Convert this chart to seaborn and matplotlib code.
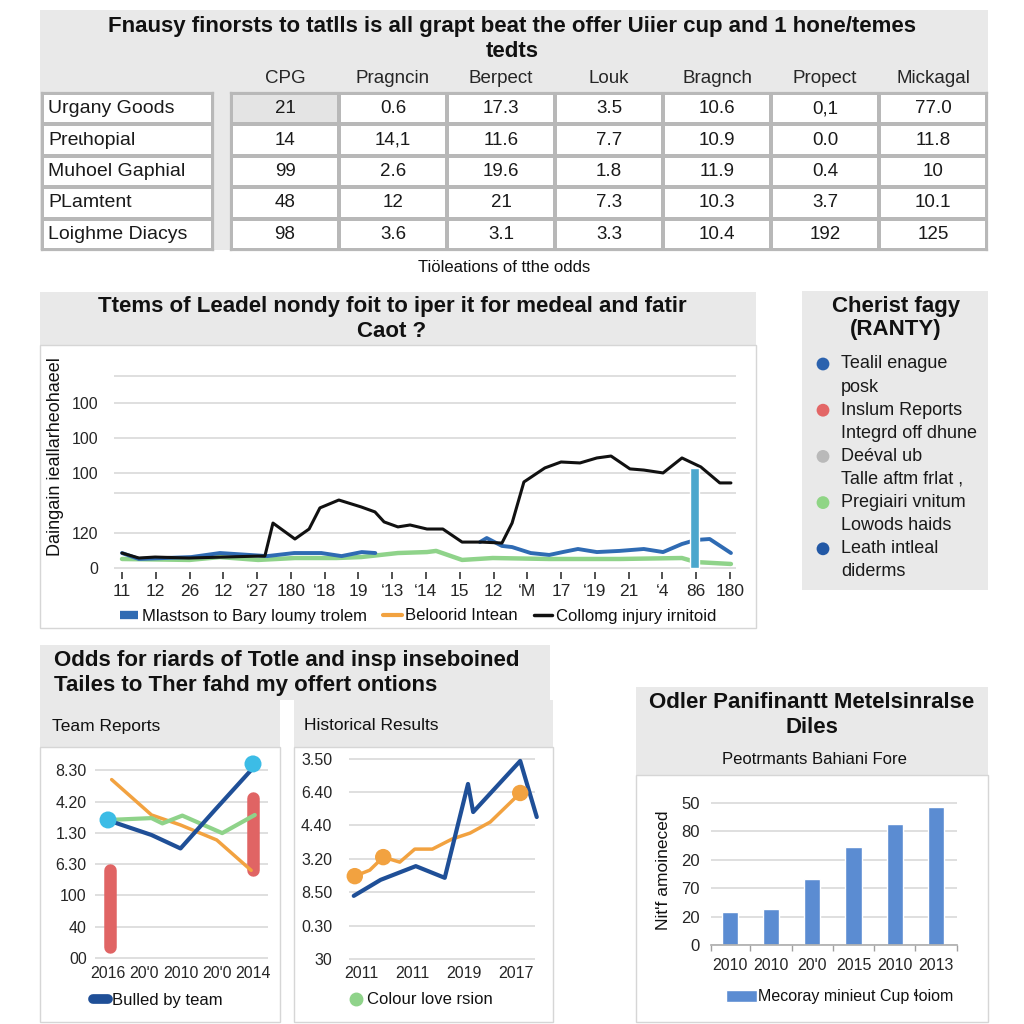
import numpy as np
import pandas as pd
import matplotlib
matplotlib.use("Agg")
import matplotlib.pyplot as plt
import seaborn as sns
from matplotlib.patches import Rectangle, Patch
from matplotlib.lines import Line2D
from matplotlib.colors import ListedColormap

# ---------------- DATA ----------------
# Top table
table_title = "Fnausy finorsts to tatlls is all grapt beat the offer Uiier cup and 1 hone/temes\ntedts"
table_cols = ["CPG", "Pragncin", "Berpect", "Louk", "Bragnch", "Propect", "Mickagal"]
table_rows = ["Urgany Goods", "Preɩhopial", "Muhoel Gaphial", "PLamtent", "Loighme Diacys"]
table_vals = [
    ["21", "0.6", "17.3", "3.5", "10.6", "0,1", "77.0"],
    ["14", "14,1", "11.6", "7.7", "10.9", "0.0", "11.8"],
    ["99", "2.6", "19.6", "1.8", "11.9", "0.4", "10"],
    ["48", "12", "21", "7.3", "10.3", "3.7", "10.1"],
    ["98", "3.6", "3.1", "3.3", "10.4", "192", "125"],
]
table_caption = "Tiöleations of tthe odds"

# Middle line chart
mid_title = "Ttems of Leadel nondy foit to iper it for medeal and fatir\nCaot ?"
mid_ylabel = "Daingain ieallarheohaeel"
mid_xlabels = ["11", "12", "26", "12", "‘27", "180", "‘18", "19", "‘13", "‘14",
               "15", "12", "‘M", "17", "‘19", "21", "‘4", "86", "180"]
mid_ytick_pos = [0, 18.2, 39, 49.5, 67.7, 85.9, 100]
mid_ytick_lab = ["0", "120", "", "100", "100", "100", ""]
black_x = [0, 0.5, 0.98, 1.98, 4.03, 4.23, 4.47, 5.12, 5.54, 5.86, 6.42, 7.08, 7.49,
           7.76, 8.17, 8.53, 9.03, 9.5, 10.07, 10.63, 11.25, 11.55, 11.9, 12.52, 13.0,
           13.56, 14.06, 14.48, 15.04, 15.45, 16.02, 16.58, 17.14, 17.7, 18.03]
black_y = [7.8, 5.2, 5.7, 5.2, 6.2, 6.2, 23.4, 15.1, 20.3, 31.3, 35.4, 31.8, 29.2,
           24.0, 21.4, 22.4, 20.3, 20.3, 13.5, 13.5, 13.0, 23.4, 44.8, 52.1, 55.2,
           54.7, 57.3, 58.3, 51.6, 51.0, 49.5, 57.3, 52.6, 44.3, 44.3]
blue1_x = [0, 0.5, 2.05, 2.9, 4.3, 5.1, 5.9, 6.5, 7.1, 7.5]
blue1_y = [7.8, 4.7, 5.7, 7.8, 6.2, 7.8, 7.8, 6.2, 8.3, 7.8]
blue2_x = [10.6, 10.8, 11.25, 11.55, 12.1, 12.65, 13.05, 13.5, 14.06, 14.73, 15.45,
           16.02, 16.58, 16.99, 17.4, 18.03]
blue2_y = [13.5, 15.6, 11.5, 10.9, 7.8, 6.8, 8.3, 9.9, 8.3, 8.9, 9.9, 8.3, 12.5,
           14.6, 15.1, 7.8]
green_x = [0, 2, 2.9, 4.03, 5.12, 6.35, 7.08, 8.17, 9.03, 9.3, 10.07, 10.98, 12.65,
           14.73, 16.58, 16.99, 18.03]
green_y = [4.7, 4.2, 5.7, 4.2, 5.2, 5.2, 5.7, 7.8, 8.3, 8.9, 4.2, 5.2, 4.7, 4.7, 5.2,
           3.1, 2.1]
teal_x = [16.95]
teal_h = [52]
mid_legend = ["Mlastson to Bary loumy trolem", "Beloorid Intean", "Collomg injury irnitoid"]

# Right legend panel
side_title = "Cherist fagy\n(RANTY)"
side_lines = ["Tealil enague", "posk", "Inslum Reports", "Integrd off dhune", "Deéval ub",
              "Talle aftm frlat ,", "Pregiairi vnitum", "Lowods haids", "Leath intleal",
              "diderms"]
side_dot_line = [0, 2, 4, 6, 8]
side_dot_colors = ["#2B62AE", "#E36666", "#B9B9B9", "#8FD585", "#2258A5"]

# Bottom-left: team reports
bl_title = "Odds for riards of Totle and insp inseboined\nTailes to Ther fahd my offert ontions"
tr_title = "Team Reports"
tr_xlabels = ["2016", "20'0", "2010", "20'0", "2014"]
tr_ylabels = ["00", "40", "100", "6.30", "1.30", "4.20", "8.30"]
tr_blue_x = [0, 1.2, 2.0, 2.95, 4.0]
tr_blue_y = [4.4, 3.93, 3.5, 4.73, 6.07]
tr_orange_x = [0.1, 1.2, 2.0, 3.0, 3.95]
tr_orange_y = [5.7, 4.57, 4.25, 3.77, 2.8]
tr_green_x = [0, 1.2, 1.5, 2.05, 3.15, 4.05]
tr_green_y = [4.41, 4.47, 4.3, 4.55, 3.99, 4.57]
tr_dot_x = [0, 4.0]
tr_dot_y = [4.41, 6.2]
tr_red_x = [0.05, 4.0]
tr_red_lo = [0.35, 2.8]
tr_red_hi = [2.8, 5.1]
tr_legend = "Bulled by team"

# Bottom-middle: historical results
hr_title = "Historical Results"
hr_xlabels = ["2011", "2011", "2019", "2017"]
hr_ylabels = ["30", "0.30", "8.50", "3.20", "4.40", "6.40", "3.50"]
hr_blue_x = [-0.14, 0.38, 1.06, 1.62, 2.07, 2.17, 3.08, 3.4]
hr_blue_y = [1.89, 2.37, 2.78, 2.43, 5.24, 4.4, 5.93, 4.25]
hr_orange_x = [-0.12, 0.17, 0.43, 0.75, 1.04, 1.38, 1.76, 2.11, 2.5, 3.08]
hr_orange_y = [2.48, 2.66, 3.05, 2.9, 3.29, 3.29, 3.59, 3.77, 4.1, 4.97]
hr_orange_dots = [0, 2, 9]
hr_legend = "Colour love rsion"

# Bottom-right: bars
br_title = "Odler Panifinantt Metelsinralse\nDiles"
br_subtitle = "Peotrmants Bahiani Fore"
br_ylabel = "Nit'f amoineced"
bar_xlabels = ["2010", "2010", "20'0", "2015", "2010", "2013"]
bar_vals = [1.17, 1.27, 2.32, 3.46, 4.26, 4.86]
bar_yticklabels = ["0", "20", "70", "20", "80", "50"]
bar_legend = "Mecoray minieut Cup ɬoiom"

# ---------------- STYLE ----------------
sns.set_theme(style="white")
plt.rcParams["font.family"] = ["Liberation Sans", "DejaVu Sans"]
plt.rcParams["text.color"] = "#111111"

GRAY = "#e9e9e9"
BORDER = "#d6d6d6"
GRID = "#d9d9d9"
BLUE = "#2F6BB3"
DBLUE = "#1F4F97"
GREEN = "#8FD38A"
ORANGE = "#F2A240"
BLACK = "#111111"
TEAL = "#4BA7CD"
RED = "#E06464"
CYAN = "#3CBCE6"
BARBLUE = "#5B8CD2"
TITLE_FS = 16
TITLE_LS = 1.2

W = H = 1024
fig = plt.figure(figsize=(10.24, 10.24), dpi=100, facecolor="white")


def axes_px(x0, y0, x1, y1):
    return fig.add_axes([x0 / W, 1 - y1 / H, (x1 - x0) / W, (y1 - y0) / H])


def box(x0, y0, x1, y1, fc, ec="none", lw=1.0):
    fig.add_artist(Rectangle((x0 / W, 1 - y1 / H), (x1 - x0) / W, (y1 - y0) / H,
                             transform=fig.transFigure, facecolor=fc, edgecolor=ec,
                             linewidth=lw, zorder=-5))


def ftext(x, y, s, **kw):
    fig.text(x / W, 1 - y / H, s, **kw)


# ---------------- PANEL BACKGROUNDS ----------------
box(40, 10, 988, 250, GRAY)
box(40, 292, 756, 345, GRAY)
box(40, 345, 756, 628, "white", BORDER)
box(802, 291, 988, 590, GRAY)
box(40, 645, 550, 700, GRAY)
box(40, 700, 280, 747, GRAY)
box(294, 700, 553, 747, GRAY)
box(40, 747, 280, 1022, "white", BORDER)
box(294, 747, 553, 1022, "white", BORDER)
box(636, 687, 988, 775, GRAY)
box(636, 775, 988, 1022, "white", BORDER)

# ---------------- TOP TABLE ----------------
ftext(512, 39, table_title, ha="center", va="center", fontsize=TITLE_FS,
      fontweight="bold", linespacing=TITLE_LS)

ax_t = axes_px(231, 93, 987, 250)
hl = np.zeros((len(table_rows), len(table_cols)))
hl[0, 0] = 1
sns.heatmap(hl, ax=ax_t, cmap=ListedColormap(["white", "#e4e4e4"]), vmin=0, vmax=1,
            cbar=False, annot=np.array(table_vals), fmt="",
            annot_kws=dict(fontsize=13.5, color="#1a1a1a"),
            linewidths=1.6, linecolor="#b8b8b8",
            xticklabels=table_cols, yticklabels=False)
ax_t.xaxis.tick_top()
ax_t.tick_params(axis="x", length=0, labelsize=13.5, pad=4, rotation=0)
for s in ax_t.spines.values():
    s.set_visible(True)
    s.set_color("#b8b8b8")
    s.set_linewidth(1.6)

ax_l = axes_px(42, 93, 213, 250)
sns.heatmap(np.zeros((len(table_rows), 1)), ax=ax_l, cmap=ListedColormap(["white"]),
            vmin=0, vmax=1, cbar=False, linewidths=1.6, linecolor="#b8b8b8",
            xticklabels=False, yticklabels=False)
for s in ax_l.spines.values():
    s.set_visible(True)
    s.set_color("#b8b8b8")
    s.set_linewidth(1.6)
for i, r in enumerate(table_rows):
    ax_l.text(0.035, i + 0.5, r, ha="left", va="center", fontsize=14, color="#1a1a1a")

ftext(504, 267, table_caption, ha="center", va="center", fontsize=12)

# ---------------- MIDDLE LINE CHART ----------------
ftext(392, 319, mid_title, ha="center", va="center", fontsize=TITLE_FS,
      fontweight="bold", linespacing=TITLE_LS)
ax_m = axes_px(114, 370, 736, 572)
ax_m.set_facecolor("none")
sns.lineplot(x=green_x, y=green_y, sort=False, estimator=None, color=GREEN,
             linewidth=3.2, ax=ax_m)
seg_df = pd.DataFrame({
    "x": blue1_x + blue2_x,
    "y": blue1_y + blue2_y,
    "seg": [1] * len(blue1_x) + [2] * len(blue2_x),
})
sns.lineplot(data=seg_df, x="x", y="y", units="seg", estimator=None, sort=False,
             color=BLUE, linewidth=2.8, ax=ax_m)
sns.lineplot(x=black_x, y=black_y, sort=False, estimator=None, color=BLACK,
             linewidth=2.2, ax=ax_m)
ax_m.bar(teal_x, teal_h, width=0.24, color=TEAL, zorder=6)
ax_m.set_xlim(-0.237, 18.18)
ax_m.set_ylim(-2.08, 103.1)
ax_m.set_xticks(range(len(mid_xlabels)))
ax_m.set_xticklabels(mid_xlabels)
ax_m.set_yticks(mid_ytick_pos)
ax_m.set_yticklabels(mid_ytick_lab)
ax_m.yaxis.grid(True, color=GRID, linewidth=1.2)
ax_m.set_axisbelow(True)
ax_m.tick_params(axis="x", bottom=True, length=5, width=1.2, color="#333333",
                 labelsize=12.5, pad=4)
ax_m.tick_params(axis="y", left=False, length=0, labelsize=11.5, pad=11)
for s in ax_m.spines.values():
    s.set_visible(False)
ax_m.set(xlabel="", ylabel="")
ftext(56, 457, mid_ylabel, rotation=90, ha="center", va="center", fontsize=13)
handles = [Line2D([], [], color=BLUE, linewidth=6, solid_capstyle="butt"),
           Line2D([], [], color=ORANGE, linewidth=3),
           Line2D([], [], color=BLACK, linewidth=2.5)]
ax_m.legend(handles, mid_legend, loc="center", bbox_to_anchor=(418 / W, 1 - 616 / H),
            bbox_transform=fig.transFigure, ncol=3, frameon=False, fontsize=12,
            handlelength=1.1, handletextpad=0.2, columnspacing=1.0)

# ---------------- RIGHT LEGEND PANEL ----------------
ftext(896, 318, side_title, ha="center", va="center", fontsize=TITLE_FS,
      fontweight="bold", linespacing=1.1)
ax_s = axes_px(802, 345, 988, 590)
ax_s.set_xlim(0, 186)
ax_s.set_ylim(245, 0)
ax_s.axis("off")
line_y0, line_step = 19, 23.1
for i, t in enumerate(side_lines):
    ax_s.text(39, line_y0 + i * line_step, t, ha="left", va="center", fontsize=13,
              color="#1a1a1a")
dot_y = [line_y0 + k * line_step for k in side_dot_line]
sns.scatterplot(x=[21] * len(dot_y), y=dot_y, hue=list(range(len(dot_y))),
                palette=side_dot_colors, s=85, edgecolor="none", legend=False, ax=ax_s)
ax_s.set(xlabel="", ylabel="")

# ---------------- BOTTOM-LEFT PANEL ----------------
ftext(54, 673, bl_title, ha="left", va="center", fontsize=TITLE_FS, fontweight="bold",
      linespacing=TITLE_LS)
ftext(52, 726, tr_title, ha="left", va="center", fontsize=12.5)
ftext(304, 726, hr_title, ha="left", va="center", fontsize=12.5)

# Team reports
ax_a = axes_px(95, 760, 268, 962)
ax_a.set_facecolor("none")
ax_a.vlines(tr_red_x, tr_red_lo, tr_red_hi, colors=RED, linewidth=9,
            capstyle="round", zorder=2)
sns.lineplot(x=tr_orange_x, y=tr_orange_y, sort=False, estimator=None, color=ORANGE,
             linewidth=2.5, ax=ax_a)
sns.lineplot(x=tr_green_x, y=tr_green_y, sort=False, estimator=None, color=GREEN,
             linewidth=3, ax=ax_a)
sns.lineplot(x=tr_blue_x, y=tr_blue_y, sort=False, estimator=None, color=DBLUE,
             linewidth=3, ax=ax_a)
sns.scatterplot(x=tr_dot_x, y=tr_dot_y, color=CYAN, s=150, edgecolor="none",
                zorder=5, ax=ax_a, clip_on=False)
ax_a.set_xlim(-0.359, 4.414)
ax_a.set_ylim(-0.128, 6.326)
ax_a.set_xticks(range(len(tr_xlabels)))
ax_a.set_xticklabels(tr_xlabels)
ax_a.set_yticks(range(len(tr_ylabels)))
ax_a.set_yticklabels(tr_ylabels)
ax_a.yaxis.grid(True, color=GRID, linewidth=1.2)
ax_a.set_axisbelow(True)
ax_a.tick_params(axis="both", length=0, labelsize=11.5)
ax_a.tick_params(axis="y", pad=6)
ax_a.tick_params(axis="x", pad=3)
for s in ax_a.spines.values():
    s.set_visible(False)
ax_a.set(xlabel="", ylabel="")
ax_a.legend([Line2D([], [], color=DBLUE, linewidth=7, solid_capstyle="round")],
            [tr_legend], loc="center left", bbox_to_anchor=(78 / W, 1 - 1000 / H),
            bbox_transform=fig.transFigure, frameon=False, fontsize=12,
            handlelength=0.9, handletextpad=0.25)

# Historical results
ax_b = axes_px(349, 745, 535, 962)
ax_b.set_facecolor("none")
sns.lineplot(x=hr_orange_x, y=hr_orange_y, sort=False, estimator=None, color=ORANGE,
             linewidth=2.5, ax=ax_b, clip_on=False)
sns.scatterplot(x=[hr_orange_x[i] for i in hr_orange_dots],
                y=[hr_orange_y[i] for i in hr_orange_dots],
                color=ORANGE, s=140, edgecolor="none", zorder=4, ax=ax_b, clip_on=False)
sns.lineplot(x=hr_blue_x, y=hr_blue_y, sort=False, estimator=None, color=DBLUE,
             linewidth=3, ax=ax_b, clip_on=False)
ax_b.set_xlim(-0.232, 3.366)
ax_b.set_ylim(-0.09, 6.407)
ax_b.set_xticks(range(len(hr_xlabels)))
ax_b.set_xticklabels(hr_xlabels)
ax_b.set_yticks(range(len(hr_ylabels)))
ax_b.set_yticklabels(hr_ylabels)
ax_b.yaxis.grid(True, color=GRID, linewidth=1.2)
ax_b.set_axisbelow(True)
ax_b.tick_params(axis="both", length=0, labelsize=11.5)
ax_b.tick_params(axis="y", pad=12)
ax_b.tick_params(axis="x", pad=3)
for s in ax_b.spines.values():
    s.set_visible(False)
ax_b.set(xlabel="", ylabel="")
ax_b.legend([Line2D([], [], color=GREEN, marker="o", linestyle="", markersize=9)],
            [hr_legend], loc="center left", bbox_to_anchor=(334 / W, 1 - 1000 / H),
            bbox_transform=fig.transFigure, frameon=False, fontsize=12,
            handlelength=0.8, handletextpad=0.3)

# ---------------- BOTTOM-RIGHT BAR CHART ----------------
ftext(812, 715, br_title, ha="center", va="center", fontsize=TITLE_FS,
      fontweight="bold", linespacing=TITLE_LS)
ftext(814, 759, br_subtitle, ha="center", va="center", fontsize=12)
ax_c = axes_px(711, 795, 957, 945)
ax_c.set_facecolor("none")
bar_df = pd.DataFrame({"pos": list(range(len(bar_vals))), "val": bar_vals})
sns.barplot(data=bar_df, x="pos", y="val", color=BARBLUE, saturation=1, width=0.39,
            ax=ax_c)
ax_c.set_xlim(-0.435, 5.507)
ax_c.set_ylim(0, 5.28)
ax_c.set_xticks(range(len(bar_xlabels)))
ax_c.set_xticklabels(bar_xlabels)
ax_c.set_xticks([-0.45, 0.5, 1.5, 2.5, 3.5, 4.5, 5.5], minor=True)
ax_c.set_yticks(range(len(bar_yticklabels)))
ax_c.set_yticklabels(bar_yticklabels)
ax_c.yaxis.grid(True, color=GRID, linewidth=1.2)
ax_c.set_axisbelow(True)
ax_c.tick_params(axis="x", which="major", length=0, labelsize=11.5, pad=9)
ax_c.tick_params(axis="x", which="minor", bottom=True, length=4, width=1,
                 color="#a0a0a0")
ax_c.tick_params(axis="y", length=0, labelsize=12, pad=8)
for k, s in ax_c.spines.items():
    s.set_visible(k == "bottom")
ax_c.spines["bottom"].set_color("#b0b0b0")
ax_c.set(xlabel="", ylabel="")
ftext(663, 870, br_ylabel, rotation=90, ha="center", va="center", fontsize=12.5)
ax_c.legend([Patch(facecolor=BARBLUE)], [bar_legend], loc="center left",
            bbox_to_anchor=(712 / W, 1 - 997 / H), bbox_transform=fig.transFigure,
            frameon=False, fontsize=11.5, handlelength=1.9, handleheight=0.75,
            handletextpad=0.1)

fig.savefig("out.png", dpi=100, facecolor="white")
